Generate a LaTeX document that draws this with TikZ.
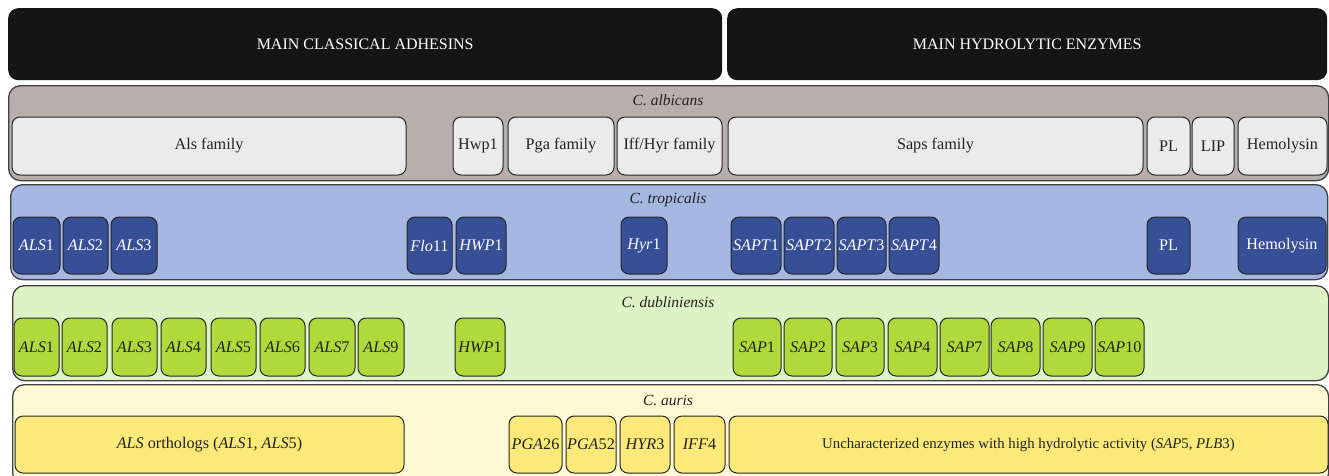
\documentclass[tikz,border=0pt]{standalone}
\usepackage{fontspec}
\setmainfont{Liberation Serif}
\usetikzlibrary{positioning}
\definecolor{barblack}{HTML}{151515}
\definecolor{albband}{HTML}{B8AFAD}
\definecolor{albbox}{HTML}{EBEBEB}
\definecolor{tropband}{HTML}{A4B8E2}
\definecolor{tropbox}{HTML}{374F96}
\definecolor{dubband}{HTML}{DDF3C5}
\definecolor{dubbox}{HTML}{B0D93C}
\definecolor{aurband}{HTML}{FFF8D4}
\definecolor{aurbox}{HTML}{FBE97A}
\definecolor{inkgray}{HTML}{222222}

\begin{document}
\begin{tikzpicture}[
  x=1pt, y=-1pt,
  every node/.style={font=\fontsize{16.2}{18}\selectfont, text=inkgray},
  headbar/.style={rectangle, fill=barblack, rounded corners=10pt, anchor=north west, inner sep=0pt, text=white, font=\fontsize{16}{18}\selectfont},
  band/.style={rectangle, draw=black!75, line width=1.3pt, rounded corners=12pt, anchor=north west, inner sep=0pt},
  species/.style={font=\fontsize{15.5}{17}\selectfont\itshape},
  gene/.style={rectangle, draw=black!85, line width=1pt, rounded corners=8pt, inner sep=0pt}
]
\useasboundingbox (0,0) rectangle (1329,475);

% Header bars
\node[headbar, minimum width=714pt, minimum height=72pt] (adhesins) at (8,8) {MAIN CLASSICAL ADHESINS};
\node[headbar, minimum width=600pt, minimum height=72pt] (enzymes) at (727,8) {MAIN HYDROLYTIC ENZYMES};

% Species bands
\node[band, fill=albband, minimum width=1320pt, minimum height=95pt] (albicans) at (8,85) {};
\node[band, fill=tropband, minimum width=1317pt, minimum height=95pt] (tropicalis) at (10,184) {};
\node[band, fill=dubband, minimum width=1316pt, minimum height=95pt] (dubliniensis) at (12,285) {};
\node[band, fill=aurband, minimum width=1316pt, minimum height=100pt] (auris) at (12,384) {};

\node[species] (albicans-lbl) at (668,100) {C. albicans};
\node[species] (tropicalis-lbl) at (668,200) {C. tropicalis};
\node[species] (dubliniensis-lbl) at (668,302) {C. dubliniensis};
\node[species] (auris-lbl) at (668,400) {C. auris};

% C. albicans
\foreach \n/\xa/\xb/\t in {als/12/406/Als family, hwp/453/503/Hwp1, pga/508/614/Pga family,
    iff/617/722/{Iff/Hyr family}, saps/728/1143/Saps family, pl/1147/1190/PL,
    lip/1192/1234/LIP, hem/1238/1327/Hemolysin}
  \node[gene, fill=albbox, minimum width={(\xb-\xa)*1pt}, minimum height=58pt] (alb-\n) at ({(\xa+\xb)/2},146) {\t};

% C. tropicalis
\foreach \n/\xa/\xb/\t in {als1/13/60/\textit{ALS}1, als2/63/108/\textit{ALS}2, als3/111/157/\textit{ALS}3,
    flo/407/452/\textit{Flo}11, hwp/456/506/\textit{HWP}1, hyr/621/667/\textit{Hyr}1,
    sapt1/731/781/\textit{SAPT}1, sapt2/784/834/\textit{SAPT}2, sapt3/837/886/\textit{SAPT}3,
    sapt4/889/939/\textit{SAPT}4, pl/1147/1190/PL, hem/1238/1326/Hemolysin}
  \node[gene, fill=tropbox, text=white, minimum width={(\xb-\xa)*1pt}, minimum height=57pt] (trop-\n) at ({(\xa+\xb)/2},245.5) {\t};

% C. dubliniensis
\foreach \n/\xa/\xb/\t in {als1/14/59/1, als2/62/107/2, als3/112/157/3, als4/161/206/4,
    als5/211/256/5, als6/260/305/6, als7/309/355/7, als9/358/404/9}
  \node[gene, fill=dubbox, minimum width={(\xb-\xa)*1pt}, minimum height=58pt] (dub-\n) at ({(\xa+\xb)/2},347) {\textit{ALS}\t};
\node[gene, fill=dubbox, minimum width=50pt, minimum height=58pt] (dub-hwp) at (480,347) {\textit{HWP}1};
\foreach \n/\xa/\xb in {1/733/781, 2/784/832, 3/836/884, 4/888/937,
    7/940/989, 8/991/1040, 9/1043/1092, 10/1095/1144}
  \node[gene, fill=dubbox, minimum width={(\xb-\xa)*1pt}, minimum height=58pt] (dub-sap\n) at ({(\xa+\xb)/2},347) {\textit{SAP}\n};

% C. auris
\node[gene, fill=aurbox, minimum width=389pt, minimum height=57pt] (aur-als) at (209.5,444.5) {\textit{ALS} orthologs (\textit{ALS}1, \textit{ALS}5)};
\foreach \n/\xa/\xb/\t in {pga26/509/562/\textit{PGA}26, pga52/566/616/\textit{PGA}52,
    hyr/620/670/\textit{HYR}3, iff/674/725/\textit{IFF}4}
  \node[gene, fill=aurbox, minimum width={(\xb-\xa)*1pt}, minimum height=57pt] (aur-\n) at ({(\xa+\xb)/2},444.5) {\t};
\node[gene, fill=aurbox, minimum width=599pt, minimum height=57pt, font=\fontsize{14.8}{17}\selectfont] (aur-enz) at (1028.5,444.5) {Uncharacterized enzymes with high hydrolytic activity (\textit{SAP}5, \textit{PLB}3)};

\end{tikzpicture}
\end{document}
